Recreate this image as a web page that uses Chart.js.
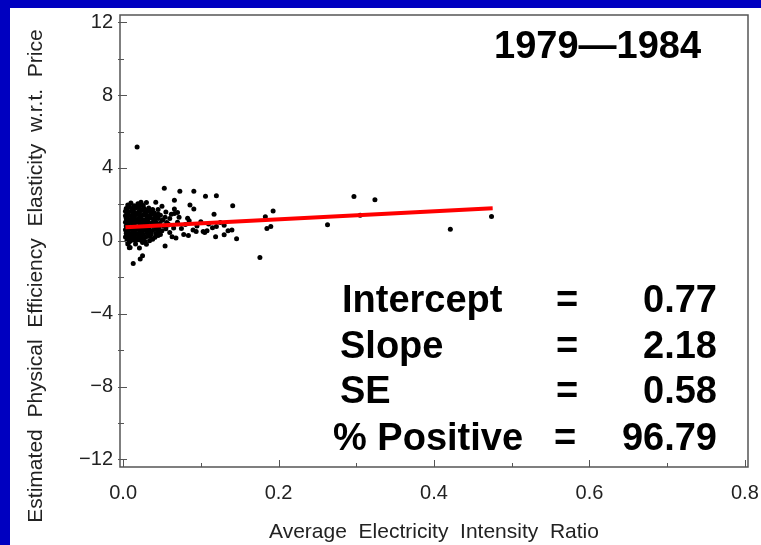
<!DOCTYPE html>
<html>
<head>
<meta charset="utf-8">
<title>Elasticity vs electricity intensity, 1979-1984</title>
<script src="https://cdn.jsdelivr.net/npm/chart.js@4/dist/chart.umd.min.js"></script>
<style>
  html, body { margin: 0; padding: 0; }
  body { width: 761px; height: 545px; background: #0000c0; overflow: hidden; position: relative; }
  #frame { position: absolute; left: 10px; top: 8px; width: 751px; height: 537px; background: #fff; }
  canvas { display: block; }
</style>
</head>
<body>
<div id="frame"><canvas id="chart" width="751" height="537"></canvas></div>
<script>
// Points (x = intensity ratio, y = elasticity)
const pointX = [
  // dense cluster near the origin, row by row
  0.006, 0.010, 0.014, 0.019, 0.024, 0.030,
  0.004, 0.008, 0.012, 0.017, 0.021, 0.027, 0.033, 0.038,
  0.003, 0.007, 0.011, 0.015, 0.020, 0.024, 0.029, 0.034, 0.040,
  0.003, 0.007, 0.011, 0.015, 0.018, 0.022, 0.026, 0.031, 0.036, 0.043, 0.048,
  0.004, 0.008, 0.012, 0.016, 0.020, 0.025, 0.030, 0.035, 0.039, 0.045, 0.051,
  0.003, 0.006, 0.010, 0.014, 0.018, 0.022, 0.027, 0.032, 0.037, 0.042, 0.047, 0.056,
  0.004, 0.008, 0.012, 0.016, 0.021, 0.025, 0.029, 0.034, 0.040, 0.046, 0.052,
  0.003, 0.007, 0.011, 0.015, 0.019, 0.023, 0.028, 0.033, 0.038, 0.044, 0.050,
  0.004, 0.008, 0.012, 0.017, 0.021, 0.026, 0.031, 0.036, 0.042, 0.048,
  0.003, 0.007, 0.011, 0.015, 0.020, 0.024, 0.029, 0.035, 0.041,
  0.005, 0.009, 0.013, 0.018, 0.023, 0.028, 0.034,
  0.006, 0.011, 0.016, 0.022, 0.030,
  0.008, 0.014, 0.021,
  // in-between rows of the cluster
  0.008, 0.016, 0.026,
  0.005, 0.013, 0.022, 0.031,
  0.005, 0.013, 0.021, 0.028, 0.038, 0.045,
  0.005, 0.013, 0.023, 0.033, 0.041, 0.054,
  0.005, 0.012, 0.020, 0.029, 0.040, 0.050,
  0.006, 0.014, 0.023, 0.031, 0.044, 0.058,
  0.005, 0.013, 0.021, 0.031, 0.042, 0.055,
  0.006, 0.014, 0.024, 0.034, 0.046,
  0.005, 0.013, 0.022, 0.033, 0.045,
  0.007, 0.016, 0.026, 0.038,
  0.007, 0.015, 0.025,
  // looser band to the right of the cluster
  0.045, 0.050, 0.055, 0.058, 0.060, 0.062, 0.065, 0.068, 0.072, 0.070,
  0.075, 0.078, 0.080, 0.085, 0.090, 0.095, 0.100, 0.105, 0.110, 0.115,
  0.125, 0.130, 0.135, 0.060, 0.063, 0.054, 0.070,
  // isolated points
  0.018, 0.053, 0.073, 0.091, 0.106, 0.120, 0.141, 0.066, 0.042, 0.023,
  0.086, 0.091, 0.066, 0.066, 0.117, 0.083, 0.183, 0.193, 0.190, 0.185,
  0.140, 0.176, 0.146, 0.130, 0.119, 0.108, 0.120, 0.103, 0.094, 0.084,
  0.013, 0.022, 0.025, 0.009, 0.263, 0.297, 0.324, 0.305, 0.421, 0.474
];
const pointY = [
  1.96, 2.08, 1.92, 2.04, 1.98, 2.10,
  1.78, 1.84, 1.75, 1.82, 1.86, 1.76, 1.80, 1.72,
  1.62, 1.58, 1.64, 1.55, 1.60, 1.66, 1.57, 1.61, 1.54,
  1.38, 1.43, 1.36, 1.41, 1.45, 1.37, 1.42, 1.39, 1.44, 1.35, 1.40,
  1.22, 1.17, 1.24, 1.19, 1.23, 1.16, 1.21, 1.25, 1.18, 1.22, 1.15,
  1.02, 0.97, 1.04, 0.99, 1.03, 0.96, 1.01, 1.05, 0.98, 1.02, 0.95, 1.00,
  0.82, 0.77, 0.84, 0.79, 0.81, 0.76, 0.83, 0.78, 0.80, 0.74, 0.82,
  0.61, 0.57, 0.63, 0.58, 0.62, 0.56, 0.60, 0.64, 0.57, 0.61, 0.55,
  0.42, 0.37, 0.44, 0.39, 0.41, 0.36, 0.43, 0.38, 0.40, 0.35,
  0.21, 0.17, 0.23, 0.18, 0.22, 0.16, 0.20, 0.24, 0.19,
  0.02, -0.03, 0.04, 0.05, 0.03, -0.04, 0.01,
  -0.18, 0.08, -0.17, 0.07, -0.19,
  -0.38, 0.12, -0.40,
  1.90, 1.88, 1.93,
  1.70, 1.68, 1.71, 1.69,
  1.50, 1.48, 1.52, 1.49, 1.51, 1.47,
  1.30, 1.28, 1.31, 1.27, 1.32, 1.29,
  1.10, 1.12, 1.08, 1.11, 1.09, 1.13,
  0.90, 0.88, 0.92, 0.89, 0.91, 0.87,
  0.70, 0.68, 0.71, 0.69, 0.72, 0.66,
  0.50, 0.48, 0.52, 0.47, 0.51,
  0.30, 0.28, 0.31, 0.27, 0.29,
  0.10, 0.09, 0.12, 0.08,
  -0.10, 0.05, -0.09,
  1.72, 1.90, 1.58, 0.92, 1.22, 1.46, 0.70, 0.15, 1.30, 1.02,
  0.68, 0.35, 0.90, 1.10, 0.60, 0.82, 1.05, 0.45, 0.92, 0.72,
  1.00, 0.85, 0.55, 0.45, 0.22, -0.29, 1.55,
  5.15, 2.89, 2.72, 2.72, 2.45, 2.48, 1.93, 2.23, 2.12, 2.12,
  1.97, 1.75, 1.75, 1.50, 1.46, 1.24, 1.32, 1.64, 0.78, 0.67,
  0.59, -0.91, 0.11, 0.33, 0.22, 0.55, 0.78, 0.51, 0.51, 0.29,
  -1.24, -1.00, -0.82, -0.37, 0.88, 2.43, 2.25, 1.41, 0.64, 1.33
];

// fitted line, ends
const fitX = [0.003, 0.4755];
const fitY = [0.75, 1.79];

const xMajor = [0, 0.2, 0.4, 0.6, 0.8];
const xTickLabels = ['0.0', '0.2', '0.4', '0.6', '0.8'];
const xMinor = [0.1, 0.3, 0.5, 0.7];
const yMajor = [-12, -8, -4, 0, 4, 8, 12];
const yTickLabels = ['\u221212', '\u22128', '\u22124', '0', '4', '8', '12'];
const yMinor = [-10, -6, -2, 2, 6, 10];

const periodLabel = '1979\u20141984';
const statNames = ['Intercept', 'Slope', 'SE', '% Positive'];
const statValues = ['0.77', '2.18', '0.58', '96.79'];

const xTitle = 'Average  Electricity  Intensity  Ratio';
const yTitle = 'Estimated  Physical  Efficiency  Elasticity  w.r.t.  Price';

const FONT = '"Liberation Sans", Arial, Helvetica, sans-serif';
const TEXT = '#222';

// box, inward tick marks, y title and the statistics block
const decorPlugin = {
  id: 'decor',
  afterDraw(chart) {
    const ctx = chart.ctx;
    const a = chart.chartArea;
    const sx = chart.scales.x;
    const sy = chart.scales.y;
    ctx.save();

    ctx.strokeStyle = '#555';
    ctx.lineWidth = 1.5;
    ctx.strokeRect(a.left, a.top, a.right - a.left, a.bottom - a.top);

    ctx.lineWidth = 1;
    ctx.beginPath();
    xMajor.forEach(v => { const p = Math.round(sx.getPixelForValue(v)) + 0.5; ctx.moveTo(p, a.bottom); ctx.lineTo(p, a.bottom - 7); });
    xMinor.forEach(v => { const p = Math.round(sx.getPixelForValue(v)) + 0.5; ctx.moveTo(p, a.bottom); ctx.lineTo(p, a.bottom - 4); });
    yMajor.forEach(v => { const p = Math.round(sy.getPixelForValue(v)) + 0.5; ctx.moveTo(a.left - 2, p); ctx.lineTo(a.left + 7, p); });
    yMinor.forEach(v => { const p = Math.round(sy.getPixelForValue(v)) + 0.5; ctx.moveTo(a.left - 2, p); ctx.lineTo(a.left + 4, p); });
    ctx.stroke();

    // y axis title
    ctx.fillStyle = TEXT;
    ctx.font = '21px ' + FONT;
    ctx.textAlign = 'center';
    ctx.textBaseline = 'middle';
    ctx.translate(26, 268);
    ctx.rotate(-Math.PI / 2);
    ctx.fillText(yTitle, 0, 0);
    ctx.setTransform(1, 0, 0, 1, 0, 0);

    // period label
    ctx.fillStyle = '#000';
    ctx.font = 'bold 38px ' + FONT;
    ctx.textBaseline = 'alphabetic';
    ctx.textAlign = 'left';
    ctx.fillText(periodLabel, 484, 50);

    // statistics
    const rowLeft = [332, 330, 330, 323];
    const rowBase = [304, 350, 395, 442];
    statNames.forEach((name, i) => {
      ctx.textAlign = 'left';
      ctx.fillText(name, rowLeft[i], rowBase[i]);
      ctx.textAlign = 'center';
      ctx.fillText('=', i === 3 ? 555 : 557, rowBase[i]);
      ctx.textAlign = 'right';
      ctx.fillText(statValues[i], 707, rowBase[i]);
    });
    ctx.restore();
  }
};

const scatterData = pointX.map((x, i) => ({ x: x, y: pointY[i] }));
const fitData = fitX.map((x, i) => ({ x: x, y: fitY[i] }));

new Chart(document.getElementById('chart'), {
  type: 'scatter',
  data: {
    datasets: [
      {
        data: fitData,
        showLine: true,
        borderColor: '#ff0000',
        borderWidth: 4,
        pointRadius: 0,
        fill: false
      },
      {
        data: scatterData,
        backgroundColor: '#000',
        borderColor: '#000',
        borderWidth: 0,
        pointRadius: 2.5
      }
    ]
  },
  options: {
    responsive: false,
    animation: false,
    devicePixelRatio: 1,
    layout: { padding: { top: 7, right: 13, left: 0, bottom: 0 } },
    plugins: {
      legend: { display: false },
      tooltip: { enabled: false }
    },
    scales: {
      x: {
        type: 'linear',
        min: -0.004,
        max: 0.804,
        grid: { display: false, drawTicks: false },
        border: { display: false },
        afterBuildTicks: s => { s.ticks = xMajor.map(v => ({ value: v })); },
        afterFit: s => { s.height = 78; s.paddingLeft = 0; s.paddingRight = 0; },
        ticks: {
          callback: (v, i) => xTickLabels[i],
          font: { family: FONT, size: 20 },
          color: TEXT,
          padding: 14,
          maxRotation: 0,
          autoSkip: false
        },
        title: {
          display: true,
          text: xTitle,
          font: { family: FONT, size: 21 },
          color: TEXT,
          padding: { top: 0, bottom: 0 }
        }
      },
      y: {
        type: 'linear',
        min: -12.42,
        max: 12.4,
        grid: { display: false, drawTicks: false },
        border: { display: false },
        afterBuildTicks: s => { s.ticks = yMajor.map(v => ({ value: v })); },
        afterFit: s => { s.width = 110; s.paddingTop = 0; s.paddingBottom = 0; },
        ticks: {
          callback: (v, i) => yTickLabels[i],
          font: { family: FONT, size: 20 },
          color: TEXT,
          padding: 7,
          autoSkip: false
        }
      }
    }
  },
  plugins: [decorPlugin]
});
</script>
</body>
</html>
